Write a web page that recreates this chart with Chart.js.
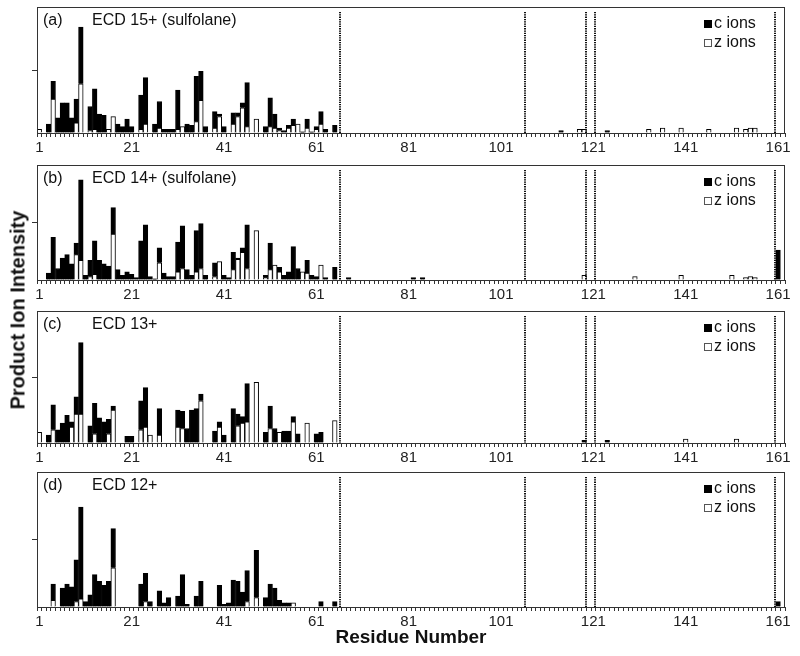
<!DOCTYPE html>
<html>
<head>
<meta charset="utf-8">
<script src="https://cdn.jsdelivr.net/npm/chart.js@4.4.1/dist/chart.umd.min.js"></script>
<style>
  body { margin: 0; background: #fff; }
  #wrap { position: relative; width: 800px; height: 656px; overflow: hidden; }
  #wrap canvas { position: absolute; left: 0; }
  #ytitle {
    position: absolute; left: 18px; top: 310px;
    transform: translate(-50%, -50%) rotate(-90deg);
    font: bold 20px Arial, "Liberation Sans", sans-serif;
    white-space: nowrap; color: #111;
  }
</style>
</head>
<body>
<div id="wrap">
  <canvas id="pa" width="800" height="157" style="top:0px"></canvas>
  <canvas id="pb" width="800" height="147" style="top:157px"></canvas>
  <canvas id="pc" width="800" height="163" style="top:304px"></canvas>
  <canvas id="pd" width="800" height="182" style="top:467px"></canvas>
  <div id="ytitle">Product Ion Intensity</div>
</div>
<script>
// residue numbers on the x axis, label every 20th
const residues = Array.from({ length: 162 }, (_, i) => i + 1);
const labelEvery = 20;
// dotted markers (residue units)
const cleavageSites = [66.2, 106.2, 119.4, 121.3, 160.3];

// relative intensity (% of panel height), residues 1-66
const cIonsA = [0,0,7,14,12,24,24,12,19,45, 0,19,32,15,14,0,0,7,5,11, 5,0,27,37,0,7,21,3,3,3,
  31,0,7,6,36,23,5,0,13,2, 5,0,9,3,4,35,0,0,0,5, 23,11,2,2,2,5,0,1,7,1, 2,10,3,0,6,0];
const zIonsA = [3,0,0,27,0,0,0,0,8,39, 0,2,3,0,0,3,13,0,0,0, 0,0,3,7,0,0,4,0,0,0,
  3,5,0,0,9,26,0,0,4,13, 0,0,7,13,20,5,0,11,0,0, 5,4,2,0,4,6,7,0,4,0, 3,7,0,0,0,0];
// [residue, value] beyond residue 66
const cTailA = [[114,2],[124,2]];
const zTailA = [[118,3],[119,3],[133,3],[136,4],[140,4],[146,3],[152,4],[154,3],[155,4],[156,4]];

const cIonsB = [0,0,6,37,10,19,22,14,10,70, 4,14,29,17,14,12,23,9,4,7, 5,2,34,48,3,1,13,6,3,3,
  26,37,9,4,36,39,4,0,12,0, 4,2,15,1,4,38,0,0,0,2, 23,0,4,4,7,29,10,0,11,4, 3,0,2,0,11,0];
const zIonsB = [0,0,0,0,0,0,0,0,22,17, 0,3,5,0,0,0,40,0,0,0, 0,0,0,0,0,0,15,0,0,0,
  7,10,0,0,7,10,0,0,3,16, 0,0,9,18,24,10,0,43,0,2, 9,13,7,0,0,0,0,7,6,0, 0,13,0,0,0,0];
const cTailB = [[68,2],[82,2],[84,2],[161,26]];
const zTailB = [[119,4],[130,3],[140,4],[151,4],[154,2],[155,3],[156,2]];

const cIonsC = [0,0,6,19,10,15,21,4,13,54, 0,13,23,19,16,11,3,0,0,5, 5,0,22,30,0,0,20,0,0,0,
  13,13,11,25,26,5,0,0,9,4, 6,0,26,9,5,29,0,0,0,8, 17,11,0,9,9,4,7,0,0,0, 7,8,0,0,0,0];
const zIonsC = [8,0,0,10,0,0,0,12,22,22, 0,0,7,0,0,7,25,0,0,0, 0,0,10,12,6,0,6,0,0,0,
  12,11,0,0,0,32,0,0,0,12, 0,0,0,13,15,16,0,46,0,0, 11,0,8,0,0,16,0,0,15,0, 0,0,0,0,17,0];
const cTailC = [[119,2],[124,2]];
const zTailC = [[141,3],[152,3]];

const cIonsD = [0,0,0,12,0,14,17,15,31,68, 4,9,24,19,16,19,29,0,0,0, 0,0,17,21,4,0,12,3,7,0,
  8,24,2,0,8,19,0,0,0,16, 2,3,20,19,11,23,0,35,0,7, 17,14,5,3,3,0,0,0,0,0, 0,4,0,0,4,0];
const zIonsD = [0,0,0,5,0,0,0,0,4,6, 0,0,0,0,0,0,29,0,0,0, 0,0,0,4,0,0,0,0,0,0,
  0,0,0,0,0,0,0,0,0,0, 0,0,0,0,0,4,0,7,0,0, 0,0,0,0,0,3,0,0,0,0, 0,0,0,0,0,0];
const cTailD = [[161,4]];
const zTailD = [];

const FONT = 'Arial, "Liberation Sans", sans-serif';
Chart.defaults.font.family = FONT;
Chart.defaults.color = '#222';

function series(head, tail) {
  const out = residues.map((r, i) => (head[i] ? head[i] : null));
  tail.forEach(([r, v]) => { out[r - 1] = v; });
  return out;
}

// frame, dotted markers, panel caption and legend
const panelDecor = {
  id: 'panelDecor',
  afterDatasetsDraw(chart, args, o) {
    const { ctx, chartArea: a } = chart;
    const x = chart.scales.x;
    ctx.save();
    ctx.strokeStyle = '#111';
    ctx.lineWidth = 2;
    ctx.setLineDash([1.3, 1]);
    cleavageSites.forEach(r => {
      const px = Math.round(x.getPixelForValue(r - 1));
      ctx.beginPath();
      ctx.moveTo(px, a.top + 5);
      ctx.lineTo(px, a.bottom);
      ctx.stroke();
    });
    ctx.setLineDash([]);
    ctx.lineWidth = 1;
    ctx.strokeStyle = '#333';
    ctx.strokeRect(a.left + 0.5, a.top + 0.5, a.width - 1, a.height);

    ctx.fillStyle = '#111';
    ctx.font = '16px ' + FONT;
    ctx.textBaseline = 'middle';
    ctx.fillText(o.tag, a.left + 6, a.top + 14);
    ctx.fillText(o.name, a.left + 55, a.top + 14);

    const ds = chart.data.datasets;
    const lx = a.right - 81;
    [ds[1], ds[0]].forEach((d, k) => {
      const ly = a.top + 17 + k * 19;
      if (d.backgroundColor === '#000') {
        ctx.fillStyle = '#000';
        ctx.fillRect(lx, ly - 4, 8, 8);
      } else {
        ctx.strokeStyle = '#555';
        ctx.strokeRect(lx + 0.5, ly - 3.5, 7, 7);
      }
      ctx.fillStyle = '#111';
      ctx.fillText(d.label, lx + 10, ly);
    });
    ctx.restore();
  }
};

function makePanel(id, tag, name, c, z, cTail, zTail, padTop, axisH, showTitle) {
  new Chart(document.getElementById(id), {
    type: 'bar',
    data: {
      labels: residues,
      datasets: [
        { label: 'z ions', data: series(z, zTail), backgroundColor: '#fff', borderColor: '#000', borderWidth: 1 },
        { label: 'c ions', data: series(c, cTail), backgroundColor: '#000', borderColor: '#000', borderWidth: 1 }
      ]
    },
    options: {
      responsive: false,
      animation: false,
      devicePixelRatio: 1,
      layout: { padding: { top: padTop, right: 15, left: 0, bottom: 0 } },
      datasets: { bar: { barPercentage: 1, categoryPercentage: 1 } },
      plugins: {
        legend: { display: false },
        tooltip: { enabled: false },
        panelDecor: { tag: tag, name: name }
      },
      scales: {
        x: {
          stacked: true,
          border: { display: false },
          grid: { drawOnChartArea: false, tickLength: 4, color: '#333' },
          ticks: {
            autoSkip: false, maxRotation: 0, padding: 2,
            font: { size: 15 }, color: '#222',
            callback: (v, i) => (i % labelEvery === 0 ? String(residues[i]) : '')
          },
          title: { display: showTitle, text: 'Residue Number', font: { size: 19, weight: 'bold' }, color: '#111', padding: { top: 0, bottom: 0 } },
          afterFit: s => { s.height = axisH; }
        },
        y: {
          stacked: true, min: 0, max: 100,
          border: { display: false },
          grid: {
            drawOnChartArea: false, tickLength: 5,
            color: ctx => (ctx.tick && ctx.tick.value === 50 ? '#333' : 'rgba(0,0,0,0)')
          },
          ticks: { stepSize: 50, display: false },
          afterFit: s => { s.width = 37; }
        }
      }
    },
    plugins: [panelDecor]
  });
}

makePanel('pa', '(a)', 'ECD 15+ (sulfolane)', cIonsA, zIonsA, cTailA, zTailA, 7, 24, false);
makePanel('pb', '(b)', 'ECD 14+ (sulfolane)', cIonsB, zIonsB, cTailB, zTailB, 8, 24, false);
makePanel('pc', '(c)', 'ECD 13+', cIonsC, zIonsC, cTailC, zTailC, 7, 24, false);
makePanel('pd', '(d)', 'ECD 12+', cIonsD, zIonsD, cTailD, zTailD, 5, 42, true);
</script>
</body>
</html>
